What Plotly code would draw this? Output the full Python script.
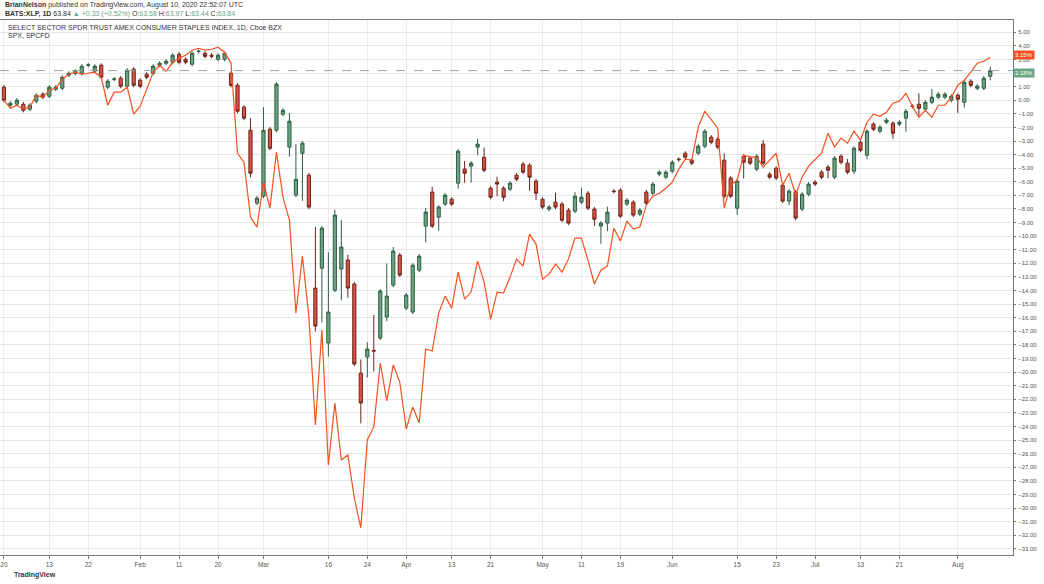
import plotly.graph_objects as go

# XLP percent change (relative to first close), per trading day Jan 2 - Aug 10 2020
xlp_open = [0.96,-0.37,-0.29,-0.29,-0.66,-0.07,0.44,0.29,0.81,0.88,1.84,1.98,1.98,2.57,2.13,2.57,0.96,1.54,1.62,1.03,
 2.28,1.47,1.91,1.98,2.57,2.72,2.79,3.38,3.01,2.65,3.58,3.45,3.31,3.01,3.01,1.98,1.10,-0.51,-2.21,-7.57,
 -7.06,-2.13,-2.21,-1.03,-3.45,-6.98,-3.90,-5.51,-13.82,-12.35,-17.86,-13.97,-12.42,-11.76,-13.52,-20.07,-18.89,-18.40,-17.49,-15.95,
 -13.60,-11.39,-15.29,-15.58,-12.50,-9.26,-6.76,-8.60,-7.64,-7.28,-6.10,-5.07,-4.85,-3.45,-4.19,-6.47,-6.03,-6.47,-6.54,-5.51,
 -4.70,-4.78,-5.95,-7.28,-8.01,-7.50,-7.64,-8.09,-8.16,-7.50,-6.84,-8.01,-9.26,-9.04,-6.69,-6.62,-7.64,-7.50,-8.38,-6.76,
 -6.84,-5.44,-5.66,-5.22,-4.34,-3.90,-4.41,-3.90,-3.38,-2.72,-2.87,-4.41,-5.73,-7.94,-4.12,-4.26,-5.07,-3.23,-5.44,-5.00,
 -6.25,-7.42,-6.76,-8.01,-6.91,-6.03,-5.29,-4.92,-5.66,-4.12,-4.63,-5.22,-3.09,-4.04,-1.76,-2.28,-1.62,-1.69,-1.76,-1.32,
 -0.44,-0.29,-0.66,-0.15,0.22,0.22,0.00,0.37,-0.15,1.40,0.88,0.88,1.76]
xlp_close = [0.00,-0.22,0.00,-0.74,-0.37,0.37,0.22,0.96,0.96,1.69,1.98,2.13,2.50,2.60,2.50,1.69,1.40,1.56,1.03,2.21,
 1.10,1.03,1.69,2.50,2.72,2.87,3.31,2.79,2.79,3.45,3.60,3.23,3.23,3.31,3.45,1.10,-0.81,-1.32,-5.37,-7.20,
 -2.21,-3.53,1.18,-0.74,-1.54,-5.81,-3.16,-7.86,-16.61,-9.41,-15.58,-8.45,-10.80,-13.82,-19.40,-22.27,-18.30,-18.45,-14.04,-14.41,
 -11.10,-12.86,-14.33,-12.13,-11.47,-8.23,-9.26,-7.86,-6.98,-7.64,-3.75,-5.37,-4.63,-3.23,-5.15,-7.13,-6.17,-7.13,-6.10,-5.81,
 -5.29,-5.66,-6.84,-7.86,-7.86,-7.86,-8.82,-9.04,-7.06,-7.13,-7.94,-8.75,-9.04,-8.23,-6.72,-8.53,-7.35,-8.45,-8.09,-7.57,
 -6.17,-5.29,-5.29,-4.56,-4.37,-4.19,-4.63,-3.38,-2.28,-3.09,-3.45,-7.06,-7.06,-5.95,-4.56,-4.63,-4.12,-4.63,-5.66,-5.73,
 -7.42,-6.69,-8.67,-6.91,-6.17,-6.17,-5.66,-5.15,-4.26,-4.56,-5.29,-3.53,-3.68,-2.28,-2.13,-1.98,-1.47,-2.43,-1.62,-0.81,
 -0.46,-0.59,-0.15,0.22,0.44,0.44,0.29,0.07,1.32,1.10,1.03,1.62,2.18]
upper_wick_exceptions = {38:0.9, 40:1.7, 44:0.6, 45:2.6, 48:4.5, 50:4.4, 51:0.4, 52:2.0, 53:0.4, 55:1.0, 56:0.5,
 57:2.6, 59:2.4, 60:0.3, 65:0.3, 66:0.4, 71:0.6, 73:0.4, 74:0.7, 76:0.4, 85:0.7, 88:0.3, 89:0.7, 93:0.4,
 111:0.5, 117:0.3, 130:0.3, 141:0.8, 143:0.6, 152:0.3}
lower_wick_exceptions = {38:0.3, 44:0.7, 46:3.5, 48:0.4, 49:4.0, 50:1.0, 52:2.3, 53:0.7, 55:1.5, 56:1.5, 57:1.5,
 59:0.3, 65:1.2, 67:1.0, 70:0.4, 71:0.7, 72:1.2, 73:0.6, 76:0.9, 77:0.3, 81:1.0, 82:0.5, 91:0.5, 92:1.3, 93:0.6,
 113:0.5, 114:1.2, 121:0.3, 127:0.6, 131:0.2, 133:0.3, 137:0.4, 139:1.0, 141:0.6, 147:1.0, 148:0.4, 152:0.3}
default_wick = 0.15

spx_pct = [0.00,-0.59,-0.37,-0.66,-0.51,0.37,0.22,0.74,0.88,1.54,1.91,2.06,1.91,1.98,2.06,1.69,-0.37,0.59,0.59,0.96,
 -1.03,-0.44,0.74,2.06,2.57,2.13,2.79,3.09,3.31,3.68,3.82,3.68,3.75,3.90,3.53,2.72,-3.90,-4.56,-8.60,-9.33,
 -6.03,-7.94,-3.82,-7.13,-8.82,-15.66,-11.47,-15.95,-23.89,-16.91,-26.83,-22.27,-26.46,-26.09,-29.25,-31.46,-24.99,-24.03,-19.33,-22.12,
 -19.48,-20.73,-24.18,-22.56,-23.74,-18.30,-18.45,-15.66,-14.41,-15.29,-12.64,-14.63,-14.11,-11.83,-13.38,-16.10,-14.11,-14.18,-13.01,-11.69,
 -12.20,-9.85,-10.58,-13.16,-12.79,-12.05,-12.64,-11.69,-10.14,-10.14,-11.76,-13.52,-12.50,-12.20,-9.41,-10.36,-8.89,-9.48,-9.33,-7.72,
 -7.06,-6.84,-6.47,-6.03,-5.07,-4.34,-4.41,-1.98,-0.81,-1.47,-2.06,-7.94,-6.25,-5.88,-4.04,-4.19,-4.19,-4.92,-4.41,-3.90,
 -6.25,-5.37,-6.98,-5.66,-4.85,-4.41,-3.90,-2.43,-3.45,-2.79,-3.16,-2.28,-2.94,-1.62,-1.03,-1.18,-0.88,-0.22,-0.07,0.51,
 -0.44,-1.25,-0.74,-1.25,-0.37,-0.37,0.22,1.10,1.47,2.06,2.72,2.87,3.15]

tick_days = [0,7,13,21,27,33,40,50,56,62,69,75,83,89,95,103,113,119,125,132,138,147]
tick_labels = ["20","13","22","Feb","11","20","Mar","16","24","Apr","13","21","May","11","19","Jun","15","23","Jul","13","21","Aug"]
y_ticks = list(range(-33, 6))

days = list(range(len(xlp_close)))
xlp_high = [max(o, c) + upper_wick_exceptions.get(i, default_wick) for i, (o, c) in enumerate(zip(xlp_open, xlp_close))]
xlp_low = [min(o, c) - lower_wick_exceptions.get(i, default_wick) for i, (o, c) in enumerate(zip(xlp_open, xlp_close))]

UP, DOWN, SPXC = "#6ba583", "#d75442", "#f4511e"
FONT = "Liberation Sans"

fig = go.Figure()
fig.add_trace(go.Candlestick(
    x=days, open=xlp_open, high=xlp_high, low=xlp_low, close=xlp_close,
    increasing=dict(line=dict(color="#2e5e40", width=1), fillcolor=UP),
    decreasing=dict(line=dict(color="#6b231a", width=1), fillcolor=DOWN),
    whiskerwidth=0, showlegend=False, hoverinfo="skip"))
fig.add_trace(go.Scatter(x=days, y=spx_pct, mode="lines", line=dict(color=SPXC, width=1.2),
                         showlegend=False, hoverinfo="skip"))

fig.add_hline(y=xlp_close[-1], line=dict(color="#9aa8a0", width=1, dash="dash"))

PLOT_T, PLOT_B = 20, 29
fig.update_layout(
    width=1044, height=584, margin=dict(l=0, r=31, t=PLOT_T, b=PLOT_B),
    paper_bgcolor="white", plot_bgcolor="white",
    font=dict(family=FONT, size=7, color="#555"),
    xaxis=dict(range=[-0.6, 155.5], tickmode="array", tickvals=tick_days, ticktext=tick_labels,
               showgrid=True, gridcolor="#ececec", gridwidth=1, rangeslider=dict(visible=False),
               ticks="outside", ticklen=3, tickcolor="#777", showline=True, linecolor="#777",
               zeroline=False, mirror=True, ticklabeloverflow="allow", tickfont=dict(size=6.5)),
    yaxis=dict(side="right", range=[-33.45, 5.9], tickmode="array", tickvals=y_ticks,
               tickformat=".2f", ticksuffix="%", showgrid=True, gridcolor="#e6e6e6",
               ticks="outside", ticklen=2, tickcolor="#777", showline=True, linecolor="#777",
               zeroline=False, mirror=True, tickfont=dict(size=6), ticklabelstandoff=1,
               ticklabeloverflow="allow"),
)

def paper_y(px_from_top):
    return (584 - PLOT_B - px_from_top) / (584 - PLOT_T - PLOT_B)

ann = [
    ("<b>BrianNelson</b> published on TradingView.com, August 10, 2020 22:52:07 UTC", 0.003, 5),
    ("<b>BATS:XLP, 1D</b> 63.84 <span style='color:#6ba583'>▲ +0.33 (+0.52%)</span> O:<span style='color:#6ba583'>63.58</span> H:<span style='color:#6ba583'>63.97</span> L:<span style='color:#6ba583'>63.44</span> C:<span style='color:#6ba583'>63.84</span>", 0.003, 14),
    ("SELECT SECTOR SPDR TRUST AMEX CONSUMER STAPLES INDEX, 1D, Cboe BZX", 0.006, 27),
    ("SPX, SPCFD", 0.006, 35),
    ("<b>TradingView</b>", 0.012, 575),
]
for text, x, ypx in ann:
    fig.add_annotation(text=text, xref="paper", x=x, yref="paper", y=paper_y(ypx),
                       xanchor="left", yanchor="middle", showarrow=False,
                       font=dict(family=FONT, size=7, color="#333"))

for val, col, shift in [(spx_pct[-1], SPXC, 2), (xlp_close[-1], UP, -2)]:
    fig.add_annotation(text="%.2f%%" % val, xref="paper", x=1.0, y=val, yref="y", yshift=shift,
                       xanchor="left", yanchor="middle", showarrow=False, bgcolor=col,
                       font=dict(family=FONT, size=6, color="white"), borderpad=1)

fig.write_html("out.html", config={"displayModeBar": False})
with open("out.html", encoding="utf-8") as f:
    html = f.read()
html = html.replace("<body>", '<body style="margin:0;overflow:hidden">', 1)
with open("out.html", "w", encoding="utf-8") as f:
    f.write(html)
